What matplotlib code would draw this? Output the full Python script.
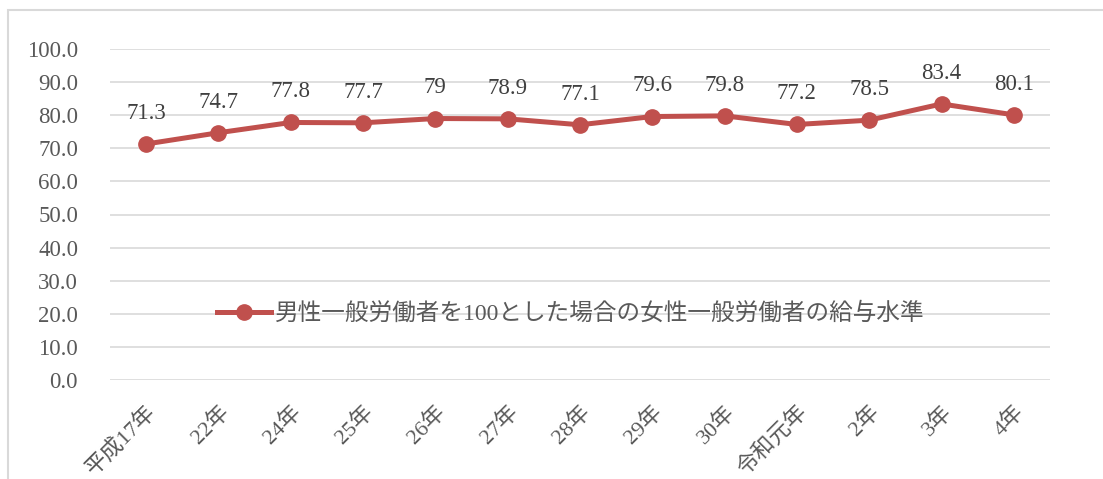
import matplotlib
matplotlib.use("Agg")
import matplotlib.pyplot as plt
from matplotlib.patches import Rectangle

plt.rcParams['font.family'] = ['Liberation Serif', 'Noto Sans CJK JP', 'DejaVu Sans']

# data
years = ["平成17年", "22年", "24年", "25年", "26年", "27年", "28年",
         "29年", "30年", "令和元年", "2年", "3年", "4年"]
values = [71.3, 74.7, 77.8, 77.7, 79.0, 78.9, 77.1, 79.6, 79.8, 77.2, 78.5, 83.4, 80.1]
value_labels = ["71.3", "74.7", "77.8", "77.7", "79", "78.9", "77.1",
                "79.6", "79.8", "77.2", "78.5", "83.4", "80.1"]
yticks = [0, 10, 20, 30, 40, 50, 60, 70, 80, 90, 100]
series_name = "男性一般労働者を100とした場合の女性一般労働者の給与水準"

line_color = "#C0504D"
text_gray = "#595959"
grid_gray = "#D9D9D9"

fig = plt.figure(figsize=(11.03, 4.79), dpi=100)
ax = fig.add_axes([110 / 1103, 1 - 380 / 479, 940 / 1103, 331 / 479])

x = range(len(years))
ax.plot(x, values, color=line_color, lw=3.6, marker="o", markersize=11,
        label=series_name, zorder=3)

for xi, v, lab in zip(x, values, value_labels):
    ax.annotate(lab, (xi, v), xytext=(0, 22), textcoords="offset points",
                ha="center", va="center", fontsize=16.5, color="#404040")

ax.set_xlim(-0.5, len(years) - 0.5)
ax.set_ylim(0, 100)
ax.set_yticks(yticks)
ax.set_yticklabels(["%.1f" % t for t in yticks])
ax.set_xticks(list(x))
ax.set_xticklabels(years, rotation=45, ha="right", rotation_mode="anchor")

ax.grid(axis="y", color=grid_gray, lw=1.2)
ax.set_axisbelow(True)
for s in ax.spines.values():
    s.set_visible(False)
ax.tick_params(axis="y", length=0, pad=23, labelsize=16.5, labelcolor=text_gray)
ax.tick_params(axis="x", length=0, pad=16, labelsize=16, labelcolor=text_gray)

ax.legend(loc="center", bbox_to_anchor=(0.49, 0.2), frameon=False,
          fontsize=17, labelcolor=text_gray, handlelength=2.3,
          handletextpad=0.15)

# chart frame
fig.patches.append(Rectangle((8 / 1103, -0.1), 1.2, 1 - 10 / 479 + 0.1,
                             transform=fig.transFigure, fill=False,
                             edgecolor=grid_gray, lw=1.5))

fig.savefig("out.png", dpi=100, facecolor="white")
